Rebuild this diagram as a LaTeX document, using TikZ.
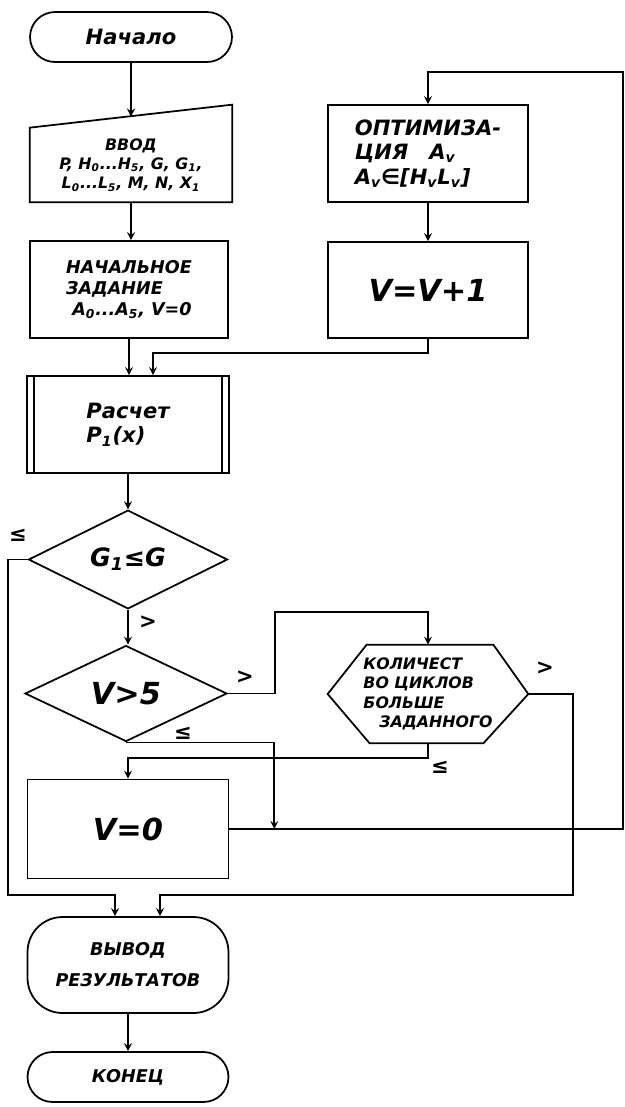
\documentclass[tikz,border=0pt]{standalone}
\usepackage{fontspec}
\setmainfont{DejaVu Sans}
\usepackage{tikz}
\usetikzlibrary{shapes,arrows,positioning,calc}

\begin{document}
\begin{tikzpicture}[
    x=0.02cm, y=-0.02cm,
    font=\bfseries\itshape,
    terminal/.style={rectangle, draw=black, line width=1pt, rounded corners=0.5cm, minimum width=4.04cm, minimum height=1cm, text centered},
    process/.style={rectangle, draw=black, line width=1pt, minimum width=4cm, minimum height=1.94cm, align=left},
    decision/.style={diamond, draw=black, line width=1pt, minimum width=4.04cm, minimum height=1.92cm, inner sep=0pt, text centered},
    blankbox/.style={rectangle, minimum width=4cm, align=center},
    wire/.style={line width=1pt},
    arrow/.style={->,>=stealth,line width=1pt},
    answer/.style={inner sep=1pt, font=\bfseries\large}
]
\useasboundingbox (0,0) rectangle (625,1107);

% Main column
\node[terminal, font=\bfseries\itshape\large] (start) at (131,37) {Начало};
\node[blankbox, minimum width=4.04cm, minimum height=1.48cm, font=\bfseries\itshape\small] (inp) at (131,165)
    {ВВОД\\P, H\textsubscript{0}...H\textsubscript{5}, G, G\textsubscript{1},\\L\textsubscript{0}...L\textsubscript{5}, M, N, X\textsubscript{1}};
\draw[wire] (inp.south west) -- (inp.south east) -- ($(inp.north east)+(0,-23)$) -- (inp.north west) -- cycle;
\coordinate (inptop) at (131,116.5);
\node[process, minimum width=3.96cm] (init) at (129,289.5)
    {НАЧАЛЬНОЕ\\ЗАДАНИЕ\\\ A\textsubscript{0}...A\textsubscript{5}, V=0};
\node[process, minimum width=4.04cm, font=\bfseries\itshape\large] (calc) at (128,424.5)
    {Расчет\\P\textsubscript{1}(x)};
\draw[wire] ($(calc.north west)+(8,0)$) -- ($(calc.south west)+(8,0)$);
\draw[wire] ($(calc.north east)+(-8,0)$) -- ($(calc.south east)+(-8,0)$);
\node[decision, minimum width=3.98cm, minimum height=1.9cm, font=\bfseries\itshape\Large] (d1) at (128,559.5) {G\textsubscript{1}≤G};
\node[decision, font=\bfseries\itshape\LARGE] (d2) at (126,693.5) {V>5};
\node[process, minimum width=4.02cm, minimum height=1.98cm, font=\bfseries\itshape\LARGE, align=center] (zero) at (128,829) {V=0};
\node[rectangle, draw=black, line width=1pt, rounded corners=0.7cm, minimum width=4.02cm, minimum height=1.92cm, align=center] (out) at (128,965)
    {ВЫВОД\\[2mm]РЕЗУЛЬТАТОВ};
\node[terminal, minimum width=4.02cm] (stop) at (128,1077) {КОНЕЦ};

% Right column
\node[process, font=\bfseries\itshape\large] (opt) at (428,153.5)
    {ОПТИМИЗА-\\ЦИЯ\quad A\textsubscript{v}\\A\textsubscript{v}∈[H\textsubscript{v}L\textsubscript{v}]};
\node[process, minimum height=1.92cm, font=\bfseries\itshape\LARGE, align=center] (inc) at (428,290) {V=V+1};
\node[blankbox, minimum height=1.96cm, align=left, font=\bfseries\itshape\small] (hex) at (428,694)
    {КОЛИЧЕСТ\\ВО ЦИКЛОВ\\БОЛЬШЕ\\\quad ЗАДАННОГО};
\draw[wire] (hex.west) -- ($(hex.north west)+(39,0)$) -- ($(hex.north east)+(-35,0)$) -- (hex.east)
    -- ($(hex.south east)+(-45,0)$) -- ($(hex.south west)+(42,0)$) -- cycle;

% Turning points
\coordinate (lft) at (8,895);
\coordinate (rbot) at (573,895);
\coordinate (rtop) at (623,72);

% Connections
\draw[arrow] (start.south) -- (inptop);
\draw[arrow] (inp.south) -- (inp.south |- init.north);
\draw[arrow] (init.south) -- (init.south |- calc.north);
\draw[arrow] (inc.south) -- ++(0,14) -| ($(calc.north)+(25,0)$);
\draw[arrow] (calc.south) -- (calc.south |- d1.north);
\draw[arrow] (d1.south) -- (d1.south |- d2.north);
\draw[arrow] (d1.west) -| (lft) -| ($(out.north)+(-13,0)$);
\draw[arrow] (d2.east) -- ++(47,0) |- ($(hex.north)+(0,-33)$) -- (hex.north);
\draw[arrow] (d2.south) -| ($(zero.east)+(45,0)$);
\draw[arrow] (hex.south) -- ++(0,15) -| (zero.north);
\draw[arrow] (hex.east) -| (rbot) -| ($(out.north)+(32,0)$);
\draw[arrow] (zero.east) -| (rtop) -| (opt.north);
\draw[arrow] (opt.south) -- (inc.north);
\draw[arrow] (out.south) -- (stop.north);

% Branch labels
\node[answer] (le1) at (18,535) {≤};
\node[answer] (gt1) at (148,622) {>};
\node[answer] (gt2) at (245,677) {>};
\node[answer] (le2) at (183,733) {≤};
\node[answer] (le3) at (440,767) {≤};
\node[answer] (gt3) at (545,668) {>};

\end{tikzpicture}
\end{document}
